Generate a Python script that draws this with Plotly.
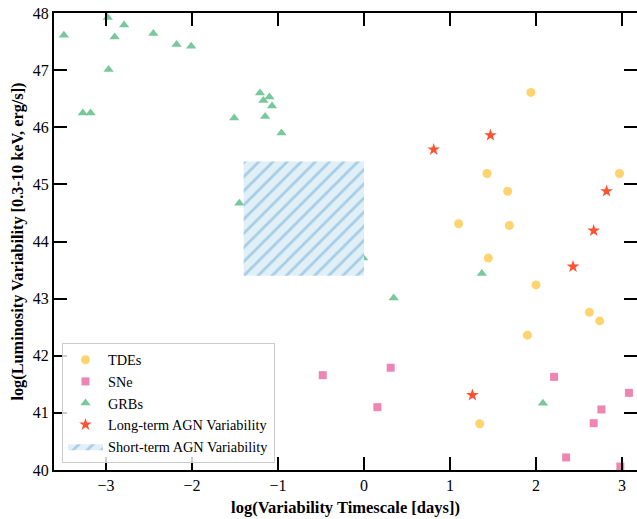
import plotly.graph_objects as go

# ---- data ----
tde_x = [1.94, 1.43, 2.97, 1.67, 1.10, 1.69, 1.445, 2.00, 2.62, 2.74, 1.90, 1.345]
tde_y = [46.61, 45.19, 45.19, 44.88, 44.31, 44.28, 43.71, 43.24, 42.76, 42.61, 42.36, 40.81]

sne_x = [-0.48, 0.31, 0.155, 2.21, 2.76, 2.67, 3.08, 2.35, 2.98]
sne_y = [41.66, 41.79, 41.10, 41.63, 41.06, 40.82, 41.35, 40.22, 40.06]

grb_x = [-3.49, -2.98, -2.79, -2.90, -2.45, -2.18, -2.01, -2.97, -3.27, -3.18,
         -1.51, -1.21, -1.17, -1.10, -1.07, -1.15, -0.96, -1.45, -0.01, 1.37,
         0.345, 2.08]
grb_y = [47.61, 47.92, 47.79, 47.58, 47.64, 47.45, 47.42, 47.01, 46.25, 46.25,
         46.16, 46.60, 46.47, 46.53, 46.37, 46.19, 45.90, 44.67, 43.71, 43.44,
         43.01, 41.17]

agn_long_x = [0.81, 1.47, 2.82, 2.67, 2.43, 1.26]
agn_long_y = [45.61, 45.86, 44.88, 44.19, 43.56, 41.31]

agn_short_x = [-1.4, 0.0]   # timescale bounds
agn_short_y = [43.4, 45.4]  # luminosity bounds

x_ticks = [-3, -2, -1, 0, 1, 2, 3]
y_ticks = [40, 41, 42, 43, 44, 45, 46, 47, 48]

SERIF = "Liberation Serif, Times New Roman, serif"

fig = go.Figure()
fig.add_trace(go.Scatter(x=tde_x, y=tde_y, mode="markers", name="TDEs",
                         marker=dict(symbol="circle", size=9, color="#FFD36E")))
fig.add_trace(go.Scatter(x=sne_x, y=sne_y, mode="markers", name="SNe",
                         marker=dict(symbol="square", size=8, color="#EE86B4")))
fig.add_trace(go.Scatter(x=grb_x, y=grb_y, mode="markers", name="GRBs",
                         marker=dict(symbol="triangle-up", size=9, color="#77C89A")))
fig.add_trace(go.Scatter(x=agn_long_x, y=agn_long_y, mode="markers",
                         name="Long-term AGN Variability",
                         marker=dict(symbol="star", size=9.5, color="#FF5030")))

rx = [agn_short_x[0], agn_short_x[1], agn_short_x[1], agn_short_x[0], agn_short_x[0]]
ry = [agn_short_y[0], agn_short_y[0], agn_short_y[1], agn_short_y[1], agn_short_y[0]]
fig.add_trace(go.Scatter(x=rx, y=ry, mode="lines", fill="toself",
                         name="Short-term AGN Variability",
                         line=dict(width=0, color="rgba(0,0,0,0)"),
                         fillcolor="#E1EFF7",
                         fillpattern=dict(shape="/", fgcolor="#6AAED6", bgcolor="#E1EFF7",
                                          size=10, solidity=0.28)))

# invisible trace for right-hand ticks
fig.add_trace(go.Scatter(x=[0], y=[44], yaxis="y2", mode="markers",
                         marker=dict(opacity=0), showlegend=False, hoverinfo="skip"))

axis_common = dict(ticks="inside", ticklen=13, tickwidth=2, tickcolor="black",
                   showgrid=False, zeroline=False,
                   tickfont=dict(family=SERIF, size=16, color="black"))

fig.update_layout(
    width=637, height=519,
    margin=dict(l=54, r=0, t=13, b=49),
    plot_bgcolor="white", paper_bgcolor="white",
    xaxis=dict(range=[-3.605, 3.174], tickvals=x_ticks,
               ticktext=["\u22123", "\u22122", "\u22121", "0", "1", "2", "3"],
               showline=True, linewidth=2, linecolor="black", mirror="ticks",
               title=dict(text="<b>log(Variability Timescale [days])</b>",
                          font=dict(family=SERIF, size=16.5, color="black"), standoff=8),
               **axis_common),
    yaxis=dict(range=[40, 48], tickvals=y_ticks,
               showline=True, linewidth=2, linecolor="black", mirror=False,
               title=dict(text="<b>log(Luminosity Variability [0.3-10 keV, erg/s])</b>",
                          font=dict(family=SERIF, size=16.3, color="black"), standoff=5),
               **axis_common),
    yaxis2=dict(range=[40, 48], tickvals=y_ticks, overlaying="y", side="right",
                showticklabels=False, showline=False, **axis_common),
    legend=dict(x=0.0137, y=0.0153, xanchor="left", yanchor="bottom",
                bgcolor="rgba(255,255,255,0.8)", bordercolor="#CCCCCC", borderwidth=1,
                font=dict(family=SERIF, size=14.3, color="black"),
                itemwidth=35, tracegroupgap=0),
    showlegend=True,
)

fig.write_html("out.html", config={"displayModeBar": False},
               post_script="document.body.style.margin='0';document.body.style.overflow='hidden';")
